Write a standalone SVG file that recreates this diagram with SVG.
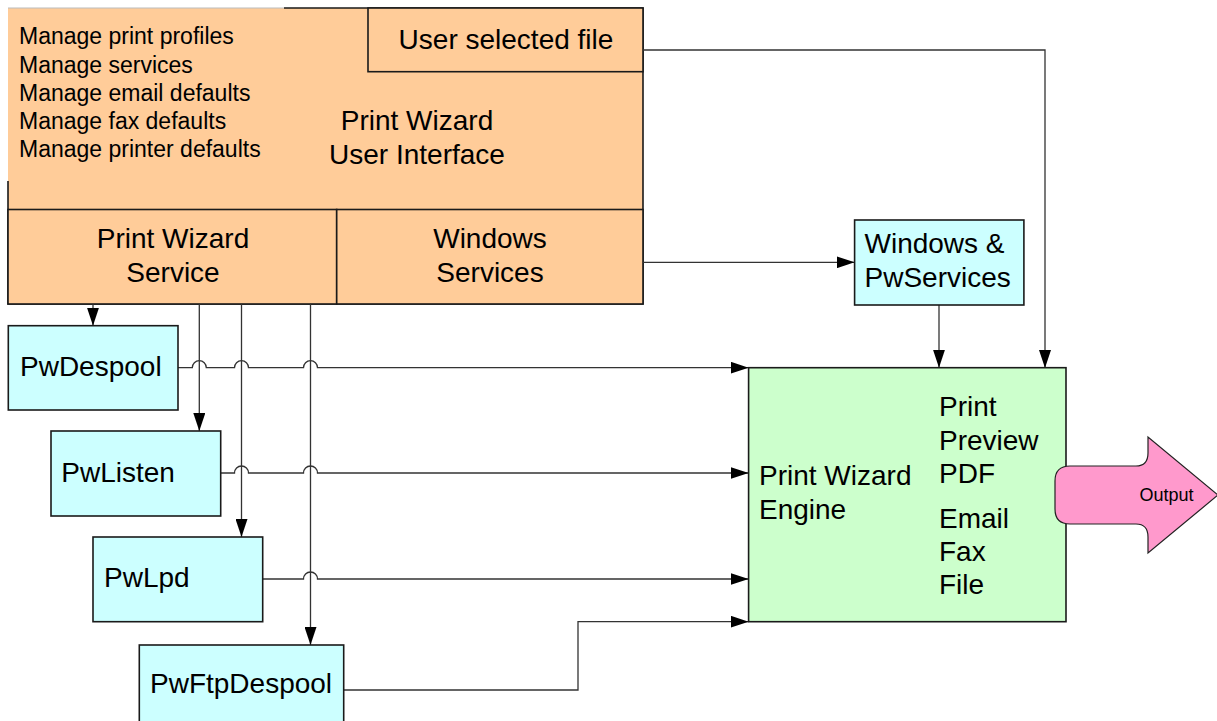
<svg xmlns="http://www.w3.org/2000/svg" width="1217" height="721" viewBox="0 0 1217 721">
<style>
text{font-family:"Liberation Sans",Arial,sans-serif;fill:#000}
.t28{font-size:28px}
.t23{font-size:23px}
.mid{text-anchor:middle}
.orange{fill:#FFCC99;stroke:#1a1a1a;stroke-width:1.6}
.cyan{fill:#CCFFFF;stroke:#1a1a1a;stroke-width:1.6}
.green{fill:#CCFFCC;stroke:#1a1a1a;stroke-width:1.6}
.conn{fill:none;stroke:#333;stroke-width:1.3}
</style>
<defs>
<marker id="arr" markerUnits="userSpaceOnUse" markerWidth="18" markerHeight="12" refX="18" refY="6" orient="auto">
<path d="M0,0 L18,6 L0,12 Z" fill="#000"/>
</marker>
</defs>
<rect width="1217" height="721" fill="#fff"/>

<g id="ui">
<rect x="8" y="8" width="635" height="296" fill="#FFCC99"/>
<path d="M8,8 H284" fill="none" stroke="#bbb" stroke-width="1.2"/>
<path d="M284,8 H643 V304 H8 V181" fill="none" stroke="#1a1a1a" stroke-width="1.6"/>
<text class="t23" x="19" y="44.3">Manage print profiles</text>
<text class="t23" x="19" y="72.7">Manage services</text>
<text class="t23" x="19" y="101">Manage email defaults</text>
<text class="t23" x="19" y="129.3">Manage fax defaults</text>
<text class="t23" x="19" y="157.3">Manage printer defaults</text>
<text class="t28 mid" x="417" y="130">Print Wizard</text>
<text class="t28 mid" x="417" y="164">User Interface</text>
</g>

<g id="userfile">
<rect class="orange" x="368" y="8" width="275" height="63.7"/>
<text class="t28 mid" x="506" y="48.5">User selected file</text>
</g>

<g id="pwservice">
<rect class="orange" x="8" y="209.5" width="328.7" height="94.5"/>
<text class="t28 mid" x="173" y="248">Print Wizard</text>
<text class="t28 mid" x="173" y="281.5">Service</text>
</g>

<g id="winservices">
<rect class="orange" x="336.7" y="209.5" width="306.3" height="94.5"/>
<text class="t28 mid" x="490" y="248">Windows</text>
<text class="t28 mid" x="490" y="281.5">Services</text>
</g>

<g id="connectors">
<path class="conn" d="M643,50 H1045 V368" marker-end="url(#arr)"/>
<path class="conn" d="M643,262.3 H854.6" marker-end="url(#arr)"/>
<path class="conn" d="M939,305 V367.7" marker-end="url(#arr)"/>
<path class="conn" d="M93,304 V325.7" marker-end="url(#arr)"/>
<path class="conn" d="M199.3,304 V431" marker-end="url(#arr)"/>
<path class="conn" d="M241.5,304 V537" marker-end="url(#arr)"/>
<path class="conn" d="M310.5,304 V645" marker-end="url(#arr)"/>
<path class="conn" d="M178,367.7 H192.3 a7,7 0 0 1 14,0 H234.5 a7,7 0 0 1 14,0 H303.5 a7,7 0 0 1 14,0 H748.6" marker-end="url(#arr)"/>
<path class="conn" d="M220.7,473 H234.5 a7,7 0 0 1 14,0 H303.5 a7,7 0 0 1 14,0 H748.6" marker-end="url(#arr)"/>
<path class="conn" d="M262.7,579 H303.5 a7,7 0 0 1 14,0 H748.6" marker-end="url(#arr)"/>
<path class="conn" d="M343.7,690 H578 V621.7 H748.6" marker-end="url(#arr)"/>
</g>

<g id="pwdespool">
<rect class="cyan" x="8.3" y="325.7" width="169.7" height="84.3"/>
<text class="t28" x="20" y="376">PwDespool</text>
</g>

<g id="pwlisten">
<rect class="cyan" x="51" y="431" width="169.7" height="85"/>
<text class="t28" x="61.3" y="481.7">PwListen</text>
</g>

<g id="pwlpd">
<rect class="cyan" x="93" y="537" width="169.7" height="84.7"/>
<text class="t28" x="104" y="587.3">PwLpd</text>
</g>

<g id="pwftpdespool">
<rect class="cyan" x="139.3" y="645" width="204.4" height="100"/>
<text class="t28" x="150" y="692.7">PwFtpDespool</text>
</g>

<g id="winpwservices">
<rect class="cyan" x="854.6" y="220" width="169.3" height="85"/>
<text class="t28" x="864.5" y="253.3">Windows &amp;</text>
<text class="t28" x="864.5" y="287">PwServices</text>
</g>

<g id="engine">
<rect class="green" x="748.6" y="367.7" width="317.4" height="254"/>
<text class="t28" x="759" y="485">Print Wizard</text>
<text class="t28" x="759" y="519.3">Engine</text>
<text class="t28" x="939" y="416">Print</text>
<text class="t28" x="939" y="450">Preview</text>
<text class="t28" x="939" y="483.3">PDF</text>
<text class="t28" x="939" y="527.7">Email</text>
<text class="t28" x="939" y="561">Fax</text>
<text class="t28" x="939" y="594.3">File</text>
</g>

<g id="output">
<path d="M1070,466 H1136 Q1148,466 1148,453 V437 L1218,495 L1148,553 V537 Q1148,524 1136,524 H1070 Q1055,524 1055,509 V481 Q1055,466 1070,466 Z" fill="#FF99CC" stroke="#222" stroke-width="1.2"/>
<text class="mid" x="1166.5" y="501" font-size="18">Output</text>
</g>
</svg>
